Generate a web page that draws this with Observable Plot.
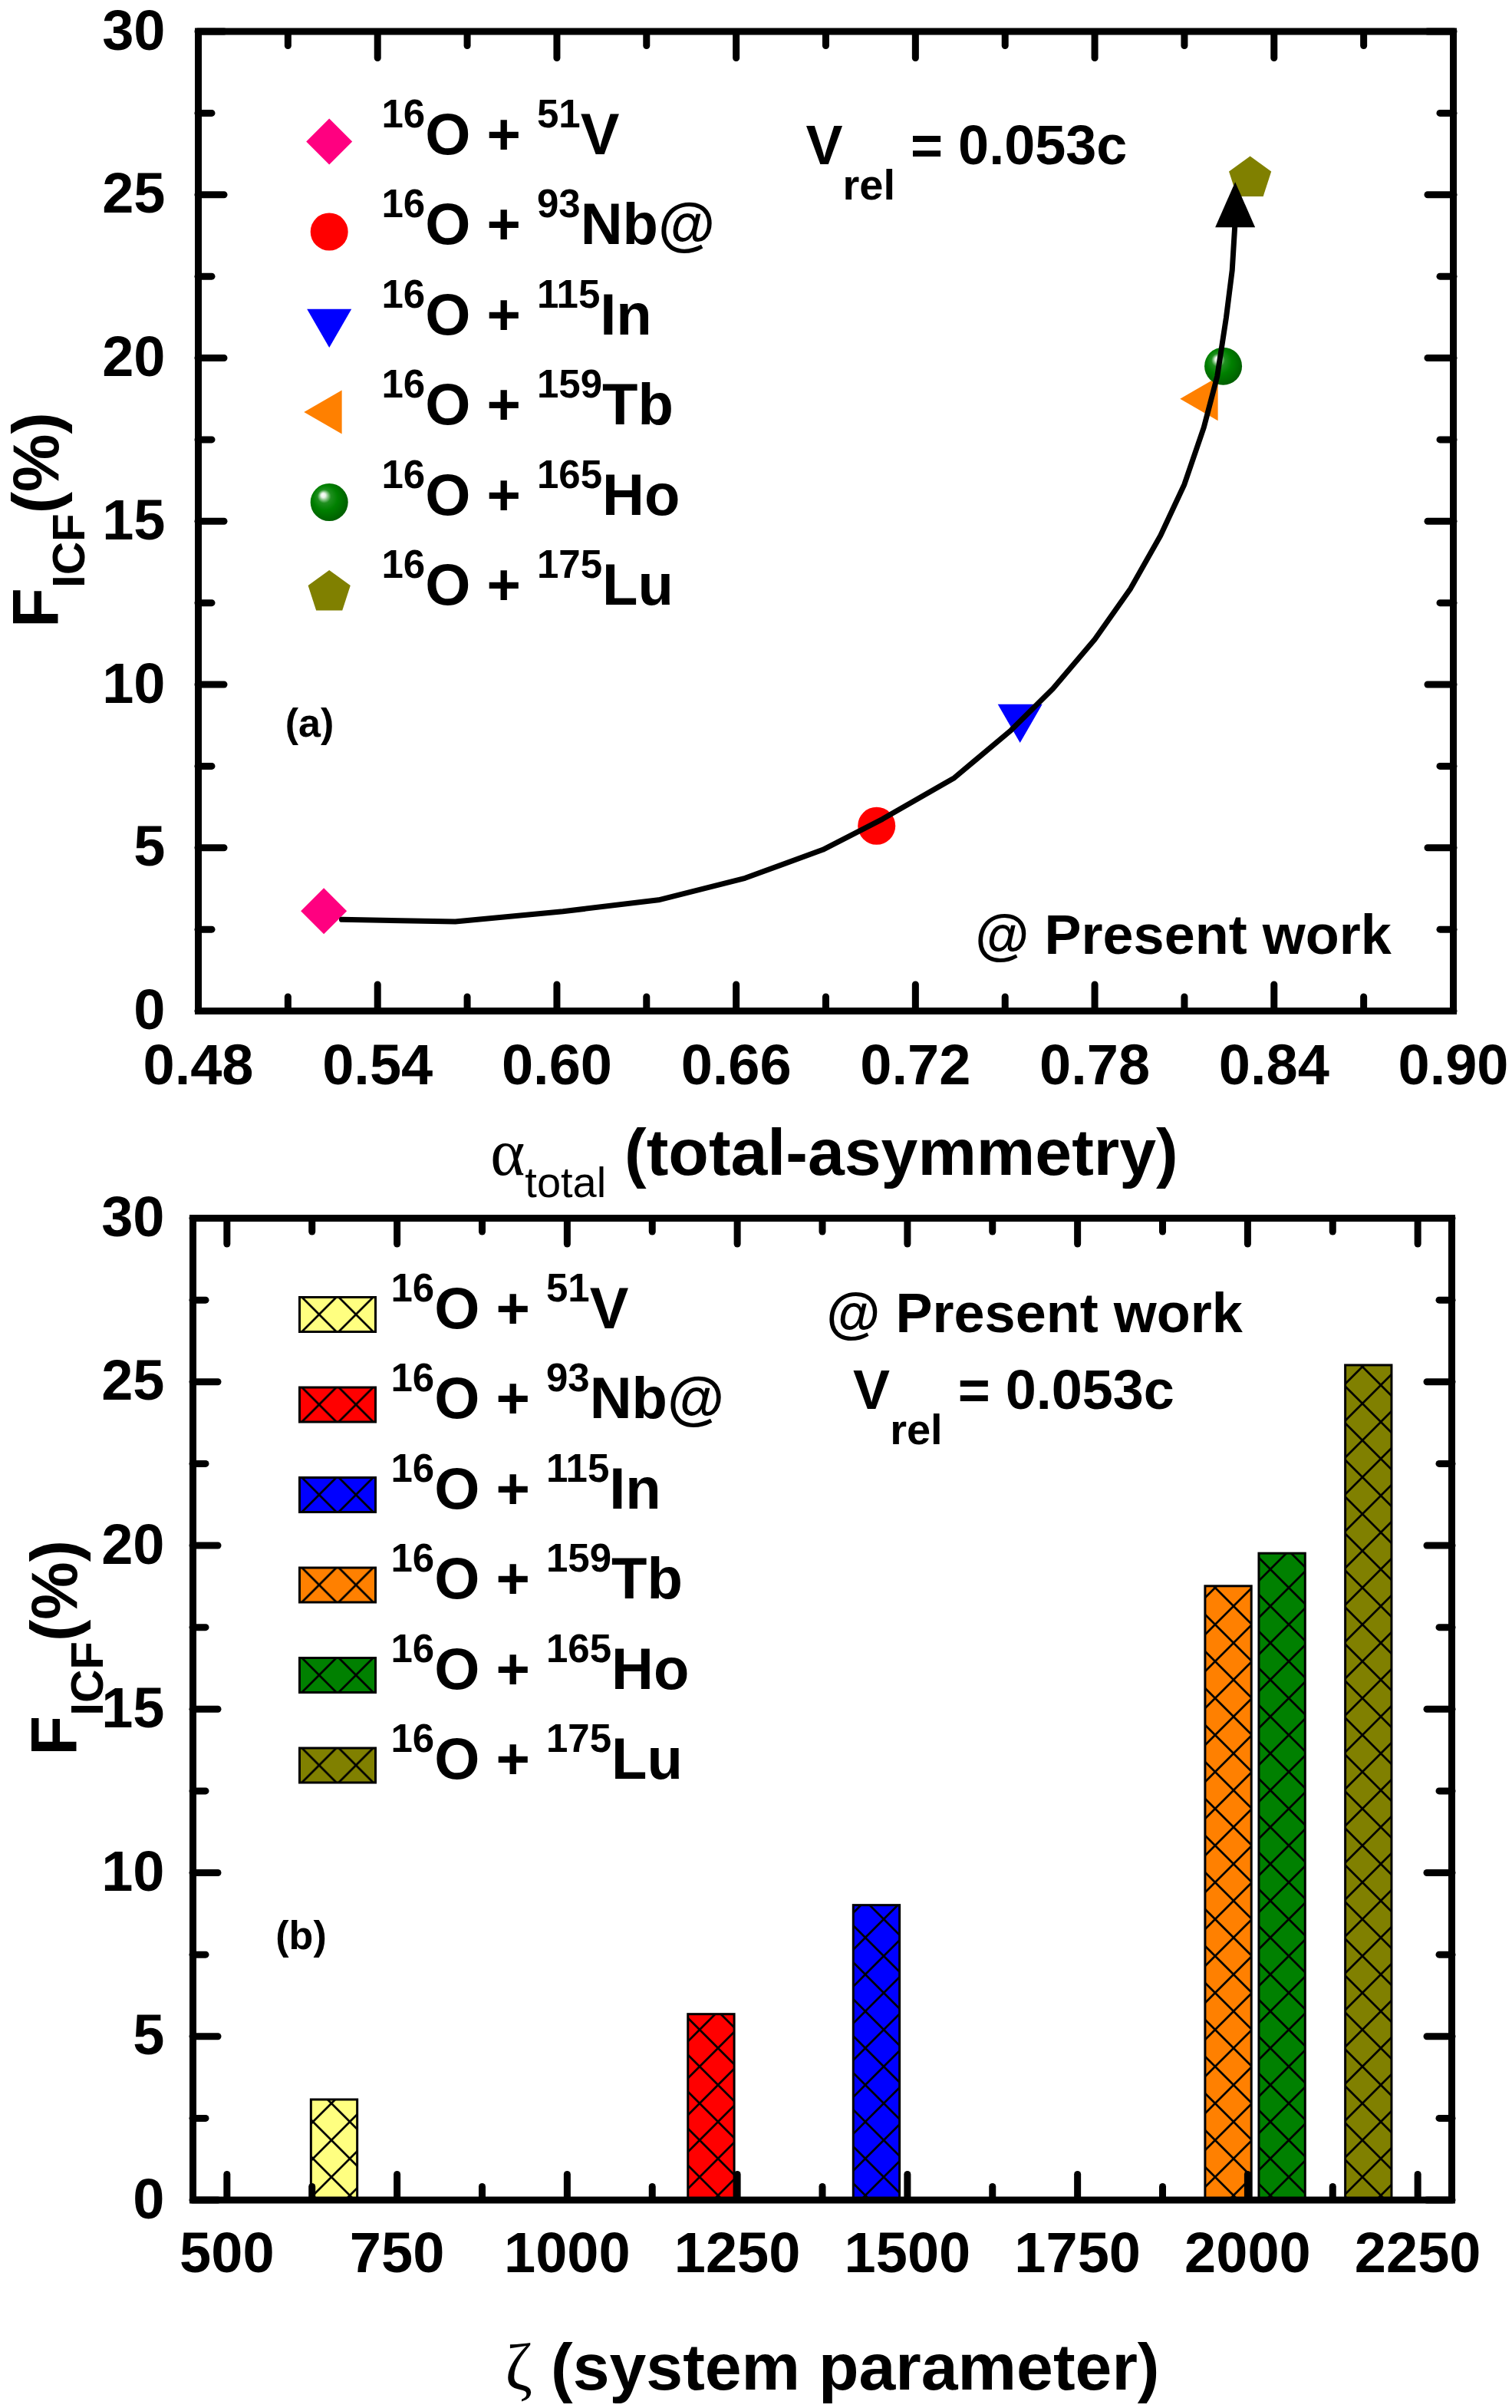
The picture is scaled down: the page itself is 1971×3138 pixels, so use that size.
<!DOCTYPE html>
<html>
<head>
<meta charset="utf-8">
<script src="https://cdn.jsdelivr.net/npm/d3@7"></script>
<script src="https://cdn.jsdelivr.net/npm/@observablehq/plot@0.6"></script>
<style>
  html, body { margin: 0; padding: 0; background: #fff; }
  #chart { width: 1971px; }
  #chart svg { display: block; }
</style>
</head>
<body>
<div id="chart"></div>
<script>
// ---------------- data ----------------
const projectileMass = "16";
const projectile = "O";
const targetMass = ["51", "93", "115", "159", "165", "175"];
const targetSymbol = ["V", "Nb@", "In", "Tb", "Ho", "Lu"];
const alphaTotal = [0.522, 0.707, 0.755, 0.817, 0.823, 0.832];
const fICF = [3.06, 5.67, 9.0, 18.75, 19.75, 25.5];
const zeta = [658, 1212, 1455, 1972, 2051, 2178];
const curveAlpha = [0.528, 0.566, 0.602, 0.634, 0.663, 0.689, 0.709, 0.733, 0.752, 0.766, 0.780, 0.792, 0.802, 0.810, 0.8165, 0.821, 0.824, 0.826, 0.827];
const curveF = [2.80, 2.74, 3.05, 3.40, 4.07, 4.94, 5.88, 7.14, 8.60, 9.87, 11.38, 12.94, 14.56, 16.13, 17.87, 19.44, 21.24, 22.69, 24.2];
const arrowTipAlpha = [0.827];
const arrowTipF = [25.39];
const markerColors = ["#FF0080", "#FF0000", "#0000FF", "#FF8000", "#008000", "#808000"];
const barColors = ["#FFFF80", "#FF0000", "#0000FF", "#FF8000", "#008000", "#808000"];
const alphaTicks = [0.48, 0.54, 0.60, 0.66, 0.72, 0.78, 0.84, 0.90];
const alphaMinorTicks = [0.51, 0.57, 0.63, 0.69, 0.75, 0.81, 0.87];
const fTicks = [0, 5, 10, 15, 20, 25, 30];
const fMinorTicks = [2.5, 7.5, 12.5, 17.5, 22.5, 27.5];
const zetaTicks = [500, 750, 1000, 1250, 1500, 1750, 2000, 2250];
const zetaMinorTicks = [625, 875, 1125, 1375, 1625, 1875, 2125];
const vrelText = "V_{rel} = 0.053c";
const presentText = "@ Present work";
const yTitle = "F_{ICF}(%)";
const xTitleA = "§{α}_{total} (total-asymmetry)";
const xTitleB = "§{ζ} (system parameter)";

// ---------------- tables ----------------
const labels = targetMass.map((m, i) => `^{${projectileMass}}${projectile} + ^{${m}}${targetSymbol[i]}`);
const pointsA = alphaTotal.map((a, i) => ({i, alpha: a, F: fICF[i]}));
const barsB = zeta.map((z, i) => ({i, zeta: z, F: fICF[i]}));
const curve = curveAlpha.map((a, i) => ({alpha: a, F: curveF[i]}));
const arrowTip = arrowTipAlpha.map((a, i) => ({alpha: a, F: arrowTipF[i]}));

// ---------------- symbols ----------------
const poly = (pts) => ({
  draw(ctx, size) {
    const s = Math.sqrt(size / Math.PI);
    pts.forEach(([x, y], k) => k ? ctx.lineTo(x * s, y * s) : ctx.moveTo(x * s, y * s));
    ctx.closePath();
  }
});
const diamond = poly([[0, -1], [1, 0], [0, 1], [-1, 0]]);
const triDown = poly([[-1, -0.577], [1, -0.577], [0, 1.155]]);
const triLeft = poly([[-1.155, 0], [0.577, -1], [0.577, 1]]);
const pentagon = poly(d3.range(5).map(k => {
  const a = -Math.PI / 2 + k * 2 * Math.PI / 5;
  return [Math.cos(a), Math.sin(a)];
}));
const arrowHead = poly([[0, 0], [-1, 2.27], [1, 2.27]]);
const legendBox = {
  draw(ctx, size) {
    const s = Math.sqrt(size / Math.PI);
    const h = s * 45 / 99;
    ctx.rect(-s, -h, 2 * s, 2 * h);
  }
};
const markerStyles = [
  {symbol: diamond, r: 30, fill: markerColors[0]},
  {symbol: "circle", r: 24.5, fill: markerColors[1]},
  {symbol: triDown, r: 29, fill: markerColors[2]},
  {symbol: triLeft, r: 28.5, fill: markerColors[3]},
  {symbol: "circle", r: 24.5, fill: "url(#sphereA)"},
  {symbol: pentagon, r: 29, fill: markerColors[5]}
];

const FONT = "'Liberation Sans', Arial, Helvetica, sans-serif";

function tickAxes(axisFn, anchorA, anchorB, major, minor, majorLen, minorLen) {
  const o = {tickFormat: () => "", strokeWidth: 9, strokeLinecap: "round", label: null};
  return [
    axisFn(major, {...o, anchor: anchorA, tickSize: -majorLen}),
    axisFn(minor, {...o, anchor: anchorA, tickSize: -minorLen}),
    axisFn(major, {...o, anchor: anchorB, tickSize: -majorLen}),
    axisFn(minor, {...o, anchor: anchorB, tickSize: -minorLen})
  ];
}

// rich-text styles keyed by the source string
const richStyles = new Map([
  ...labels.map(l => [l, {sup: [51, 35]}]),
  [vrelText, {sub: [56, 46]}],
  [yTitle, {sub: [60, 34]}],
  [xTitleA, {sub: [56, 29, "normal"]}],
  [xTitleB, {sub: [56, 29, "normal"]}]
]);

function richText(svg) {
  svg.querySelectorAll("text").forEach(el => {
    const src = el.textContent;
    const st = richStyles.get(src);
    if (!st) return;
    while (el.firstChild) el.removeChild(el.firstChild);
    const re = /([\^_§])\{([^}]*)\}/g;
    let last = 0, shift = 0, m;
    const add = (str, kind) => {
      if (!str) return;
      const ts = document.createElementNS("http://www.w3.org/2000/svg", "tspan");
      let target = 0;
      if (kind === "^") { target = -st.sup[1]; ts.setAttribute("font-size", st.sup[0]); }
      else if (kind === "_") {
        target = st.sub[1]; ts.setAttribute("font-size", st.sub[0]);
        if (st.sub[2]) ts.setAttribute("font-weight", st.sub[2]);
      } else if (kind === "§") {
        ts.setAttribute("font-family", "'Liberation Serif', 'DejaVu Serif', serif");
        ts.setAttribute("font-weight", "normal");
      }
      if (target !== shift) ts.setAttribute("dy", target - shift);
      shift = target;
      ts.textContent = str;
      el.appendChild(ts);
    };
    while ((m = re.exec(src))) { add(src.slice(last, m.index), ""); add(m[2], m[1]); last = re.lastIndex; }
    add(src.slice(last), "");
  });
}

const note = (str, o) => Plot.text([str], {frameAnchor: "top-left", text: d => d, lineAnchor: "bottom", fontWeight: "bold", ...o});

// ---------------- panel (a) ----------------
const legendA = [];
labels.forEach((lab, i) => {
  legendA.push(Plot.dot([lab], {frameAnchor: "top-left", dx: 170.7, dy: 143.5 + i * 117.5, ...markerStyles[i], stroke: "none"}));
  legendA.push(note(lab, {textAnchor: "start", dx: 239, dy: 159.5 + i * 117.5, fontSize: 76}));
});

const plotA = Plot.plot({
  width: 1971, height: 1565,
  marginTop: 40.5, marginBottom: 248, marginLeft: 258, marginRight: 77,
  style: {fontFamily: FONT, fontWeight: "bold", background: "white", overflow: "visible", color: "black"},
  x: {domain: [0.48, 0.90]},
  y: {domain: [0, 30]},
  marks: [
    ...pointsA.map((p, i) => Plot.dot([p], {x: "alpha", y: "F", ...markerStyles[i], stroke: "none"})),
    Plot.line(curve, {x: "alpha", y: "F", stroke: "black", strokeWidth: 7, strokeLinejoin: "round", strokeLinecap: "round"}),
    Plot.dot(arrowTip, {x: "alpha", y: "F", symbol: arrowHead, r: 26, fill: "black", stroke: "none"}),
    ...legendA,
    note(vrelText, {textAnchor: "start", dx: 792, dy: 172.5, fontSize: 72}),
    note(presentText, {textAnchor: "middle", dx: 1284, dy: 1201.5, fontSize: 72}),
    note("(a)", {textAnchor: "middle", dx: 145, dy: 918.5, fontSize: 52}),
    Plot.text([yTitle], {frameAnchor: "left", text: d => d, rotate: -90, textAnchor: "middle", lineAnchor: "bottom", dx: -183, dy: -1.75, fontSize: 85, fontWeight: "bold"}),
    Plot.text([xTitleA], {frameAnchor: "bottom", text: d => d, textAnchor: "middle", lineAnchor: "bottom", dx: 11, dy: 213, fontSize: 86, fontWeight: "bold"}),
    Plot.axisX(alphaTicks, {anchor: "bottom", tickSize: 0, tickPadding: 43, tickFormat: d3.format(".2f"), fontSize: 74, fontWeight: "bold", label: null}),
    Plot.axisY(fTicks, {anchor: "left", tickSize: 0, tickPadding: 43, tickFormat: d => String(d), fontSize: 74, fontWeight: "bold", label: null}),
    ...tickAxes(Plot.axisX, "bottom", "top", alphaTicks, alphaMinorTicks, 34, 18),
    ...tickAxes(Plot.axisY, "left", "right", fTicks, fMinorTicks, 34, 18),
    Plot.frame({stroke: "black", strokeWidth: 9})
  ]
});

// ---------------- panel (b) ----------------
const legendB = [];
labels.forEach((lab, i) => {
  legendB.push(Plot.dot([lab], {frameAnchor: "top-left", dx: 188.5, dy: 125.4 + i * 117.5, symbol: legendBox, r: 49.5, fill: `url(#hatchB${i})`, stroke: "black", strokeWidth: 3}));
  legendB.push(note(lab, {textAnchor: "start", dx: 258, dy: 143.4 + i * 117.5, fontSize: 76}));
});

const barHalfWidth = 34;
const plotB = Plot.plot({
  width: 1971, height: 1573,
  marginTop: 22, marginBottom: 271.5, marginLeft: 251, marginRight: 79,
  style: {fontFamily: FONT, fontWeight: "bold", background: "white", overflow: "visible", color: "black"},
  x: {domain: [450, 2300]},
  y: {domain: [0, 30]},
  color: {type: "identity"},
  marks: [
    Plot.rect(barsB, {x1: d => d.zeta - barHalfWidth, x2: d => d.zeta + barHalfWidth, y1: 0, y2: "F", fill: d => `url(#hatchB${d.i})`, stroke: "black", strokeWidth: 3}),
    ...legendB,
    note(presentText, {textAnchor: "middle", dx: 1097, dy: 148.4, fontSize: 72}),
    note(vrelText, {textAnchor: "start", dx: 860.6, dy: 248.5, fontSize: 72}),
    note("(b)", {textAnchor: "middle", dx: 141, dy: 952, fontSize: 52}),
    Plot.text([yTitle], {frameAnchor: "left", text: d => d, rotate: -90, textAnchor: "middle", lineAnchor: "bottom", dx: -152, dy: -80, fontSize: 85, fontWeight: "bold"}),
    Plot.text([xTitleB], {frameAnchor: "bottom", text: d => d, textAnchor: "middle", lineAnchor: "bottom", dx: 13, dy: 246.5, fontSize: 86, fontWeight: "bold"}),
    Plot.axisX(zetaTicks, {anchor: "bottom", tickSize: 0, tickPadding: 41.5, tickFormat: d => String(d), fontSize: 74, fontWeight: "bold", label: null}),
    Plot.axisY(fTicks, {anchor: "left", tickSize: 0, tickPadding: 37, tickFormat: d => String(d), fontSize: 74, fontWeight: "bold", label: null}),
    ...tickAxes(Plot.axisX, "bottom", "top", zetaTicks, zetaMinorTicks, 33, 17),
    ...tickAxes(Plot.axisY, "left", "right", fTicks, fMinorTicks, 33, 17),
    Plot.frame({stroke: "black", strokeWidth: 9})
  ]
});

// ---------------- defs & rich text ----------------
{
  const defs = d3.select(plotA).insert("defs", ":first-child");
  const g = defs.append("radialGradient").attr("id", "sphereA")
    .attr("cx", 0.45).attr("cy", 0.45).attr("r", 0.6).attr("fx", 0.33).attr("fy", 0.3);
  [[0, "#ffffff"], [0.1, "#e6f3e6"], [0.2, "#7cc07c"], [0.3, "#1f8f1f"], [0.55, "#008000"], [1, "#005a00"]]
    .forEach(([o, c]) => g.append("stop").attr("offset", o).attr("stop-color", c));
}
{
  const defs = d3.select(plotB).insert("defs", ":first-child");
  barColors.forEach((c, i) => {
    const p = defs.append("pattern").attr("id", `hatchB${i}`).attr("patternUnits", "userSpaceOnUse")
      .attr("x", 24).attr("y", 0).attr("width", 48).attr("height", 48);
    p.append("rect").attr("width", 48).attr("height", 48).attr("fill", c);
    p.append("path").attr("d", "M-4,-4L52,52M-4,52L52,-4").attr("stroke", "black").attr("stroke-width", 2.7).attr("fill", "none");
  });
}
richText(plotA);
richText(plotB);

document.getElementById("chart").append(plotA, plotB);
</script>
</body>
</html>
